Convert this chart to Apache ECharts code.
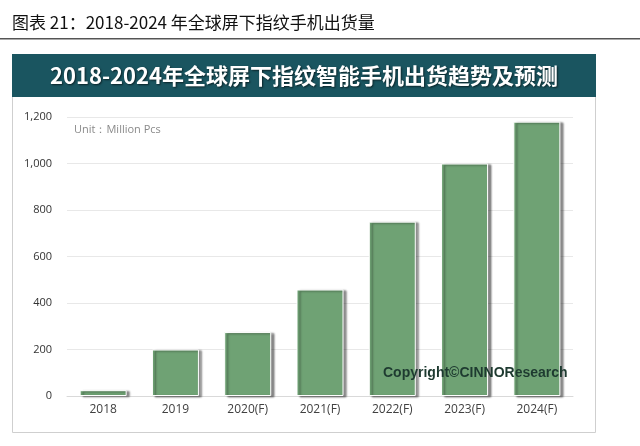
<!DOCTYPE html>
<html>
<head>
<meta charset="utf-8">
<script src="https://cdn.jsdelivr.net/npm/echarts@6/dist/echarts.min.js"></script>
<style>html,body{margin:0;padding:0;background:#fff;}#c{width:640px;height:446px;}</style>
</head>
<body>
<div id="c"></div>
<script>
var categories = ['2018', '2019', '2020(F)', '2021(F)', '2022(F)', '2023(F)', '2024(F)'];
var shipments = [25, 200, 275, 458, 750, 1000, 1180];
var yTicks = [0, 200, 400, 600, 800, 1000, 1200];

var chart = echarts.init(document.getElementById('c'));
chart.setOption({
  animation: false,
  backgroundColor: '#fff',
  grid: { left: 67, right: 67, top: 117, bottom: 50, containLabel: false },
  xAxis: {
    type: 'category',
    data: categories,
    axisLine: { lineStyle: { color: '#d9d9d9', width: 1 } },
    axisTick: { show: false },
    axisLabel: { color: '#404040', fontSize: 12, fontFamily: 'Open Sans', margin: 8 }
  },
  yAxis: {
    type: 'value',
    min: yTicks[0],
    max: yTicks[yTicks.length - 1],
    interval: 200,
    axisLine: { show: false },
    axisTick: { show: false },
    splitLine: { lineStyle: { color: '#e8e8e8', width: 1 } },
    axisLabel: {
      color: '#333', fontSize: 11, fontFamily: 'Open Sans', margin: 15,
      formatter: function (v) { return v.toLocaleString('en-US'); }
    }
  },
  series: [{
    type: 'bar',
    data: shipments,
    barWidth: 47,
    itemStyle: {
      color: '#6fa274',
      borderColor: '#ffffff',
      borderWidth: 1,
      shadowColor: 'rgba(0,0,0,0.45)',
      shadowBlur: 2,
      shadowOffsetX: 3,
      shadowOffsetY: 1
    }
  }],
  graphic: [
    { type: 'text', left: 12, top: 14, style: { text: '图表 21：2018-2024 年全球屏下指纹手机出货量', fill: '#111', font: '17px "Noto Sans CJK SC"' } },
    { type: 'rect', shape: { x: 0, y: 38, width: 640, height: 1.5 }, style: { fill: '#555' } },
    { type: 'rect', z: -1, shape: { x: 12.5, y: 54.5, width: 583, height: 378 }, style: { fill: 'none', stroke: '#cfcfcf', lineWidth: 1 } },
    { type: 'rect', shape: { x: 12, y: 54, width: 584, height: 43 }, style: { fill: '#1a5560' } },
    { type: 'text', x: 304, y: 76, style: { text: '2018-2024年全球屏下指纹智能手机出货趋势及预测', fill: '#fff', font: 'bold 22px "Noto Sans CJK SC"', textAlign: 'center', textVerticalAlign: 'middle', textShadowColor: 'rgba(0,0,0,0.6)', textShadowBlur: 2, textShadowOffsetX: 1, textShadowOffsetY: 1 } },
    { type: 'text', left: 74, top: 124, style: { text: 'Unit：Million Pcs', fill: '#8a8a8a', font: '11px "Open Sans"' } },
    { type: 'text', left: 383, top: 366, z: 100, style: { text: 'Copyright©CINNOResearch', fill: '#1e3a30', font: 'bold 14px "Liberation Sans"' } }
  ]
});
</script>
</body>
</html>
